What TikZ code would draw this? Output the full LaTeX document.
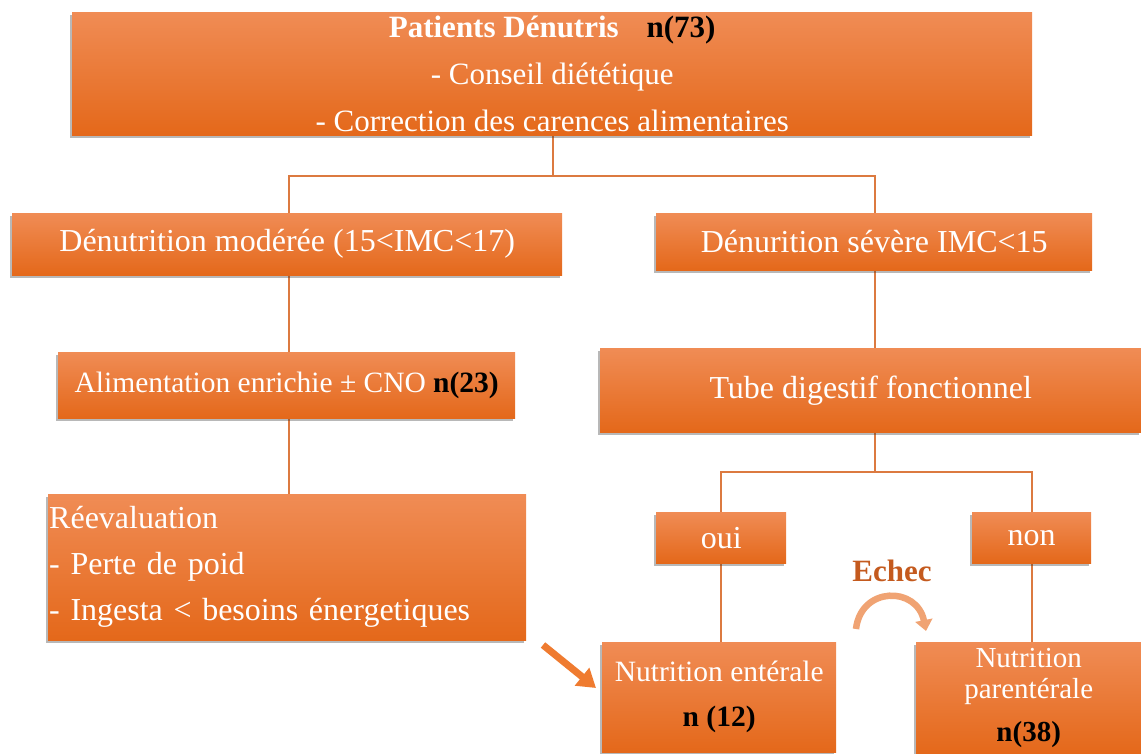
\documentclass[tikz,border=0pt]{standalone}
\usepackage{fontspec}
\setmainfont{Liberation Serif}
\usetikzlibrary{shadows,arrows.meta,backgrounds}
\definecolor{otop}{HTML}{F08C55}
\definecolor{omid}{HTML}{F27A2C}
\definecolor{obot}{HTML}{E4681A}
\definecolor{conn}{HTML}{DC7A40}
\definecolor{echec}{HTML}{C45A1E}
\definecolor{arrowlight}{HTML}{F0A373}
\definecolor{arrowdark}{HTML}{EF7B30}
\tikzset{
  box/.style={anchor=north west, inner sep=0pt, text=white, align=center,
    top color=otop, middle color=omid, bottom color=obot,
    drop shadow={shadow xshift=-2pt,shadow yshift=-3pt,opacity=.35,fill=black!80}},
  connector/.style={draw=conn, line width=1.6pt}
}
\newcommand{\nbold}[1]{\textcolor{black}{\textbf{#1}}}
\begin{document}
\begin{tikzpicture}[x=1pt,y=-1pt]
\useasboundingbox (0,0) rectangle (1141,754);
\node[box, minimum width=960pt, minimum height=123pt, font=\fontsize{31}{47}\selectfont] (top) at (72,12)
  {\textbf{Patients Dénutris}\hspace{0.9em}\nbold{n(73)}\\- Conseil diététique\\- Correction des carences alimentaires};
\node[box, minimum width=550pt, minimum height=62pt, font=\fontsize{32}{38}\selectfont] (mod) at (12,213)
  {Dénutrition modérée (15<IMC<17)};
\node[box, minimum width=436pt, minimum height=57pt, font=\fontsize{32}{38}\selectfont] (sev) at (656,213)
  {Dénurition sévère IMC<15};
\node[box, minimum width=457pt, minimum height=66pt, font=\fontsize{29.5}{34}\selectfont] (alim) at (58,352)
  {Alimentation enrichie ± CNO \nbold{n(23)}};
\node[box, minimum width=541pt, minimum height=84pt, font=\fontsize{32}{38}\selectfont] (tube) at (600,348)
  {Tube digestif fonctionnel};
\node[box, minimum width=478pt, minimum height=146pt, font=\fontsize{32}{46}\selectfont, align=left, text width=476pt] (reev) at (48,494)
  {Réevaluation\\- Perte de poid\\- Ingesta < besoins énergetiques};
\node[box, minimum width=130pt, minimum height=51pt, font=\fontsize{32}{38}\selectfont] (oui) at (656,512) {oui};
\node[box, minimum width=119pt, minimum height=51pt, font=\fontsize{32}{38}\selectfont] (non) at (972,512) {non};
\node[box, minimum width=234pt, minimum height=110pt, font=\fontsize{29.5}{45}\selectfont] (ent) at (602,642)
  {Nutrition entérale\\\nbold{n (12)}};
\node[box, minimum width=225pt, minimum height=112pt, font=\fontsize{29}{31}\selectfont] (par) at (916,642)
  {Nutrition\\parentérale\\[12pt]\nbold{n(38)}};
\begin{scope}[on background layer]
\coordinate (j1) at ([xshift=1pt]top.south |- 0,176);
\draw[connector] ([xshift=1pt]top.south) -- (j1);
\draw[connector] (j1) -| ([xshift=2pt]mod.north);
\draw[connector] (j1) -| ([xshift=1pt]sev.north);
\draw[connector] ([xshift=2pt]mod.south) -- ([xshift=2pt]mod.south |- alim.north);
\draw[connector] ([xshift=2pt]mod.south |- alim.south) -- ([xshift=2pt]mod.south |- reev.north);
\draw[connector] ([xshift=1pt]sev.south) -- ([xshift=1pt]sev.south |- tube.north);
\coordinate (j2) at ([xshift=1pt]sev.south |- 0,472);
\draw[connector] ([xshift=1pt]sev.south |- tube.south) -- (j2);
\draw[connector] (j2) -| (oui.north);
\draw[connector] (j2) -| (non.north);
\draw[connector] (oui.south) -- (oui.south |- ent.north);
\draw[connector] (non.south) -- (non.south |- par.north);
\end{scope}
\coordinate (da) at (543,645);
\draw[arrowdark, line width=7pt, -{Triangle[width=22pt,length=18pt]}] (da) -- ([xshift=-6pt,yshift=-46pt]ent.north west);
\node[text=echec, font=\fontsize{31}{34}\selectfont\bfseries] (ech) at (892,571) {Echec};
\coordinate (ca) at (856,629);
\coordinate (cb) at (926,631);
\draw[arrowlight, line width=6.5pt, -{Triangle[width=17pt,length=11pt]}] (ca) .. controls (861,586) and (917,586) .. (cb);
\end{tikzpicture}
\end{document}
